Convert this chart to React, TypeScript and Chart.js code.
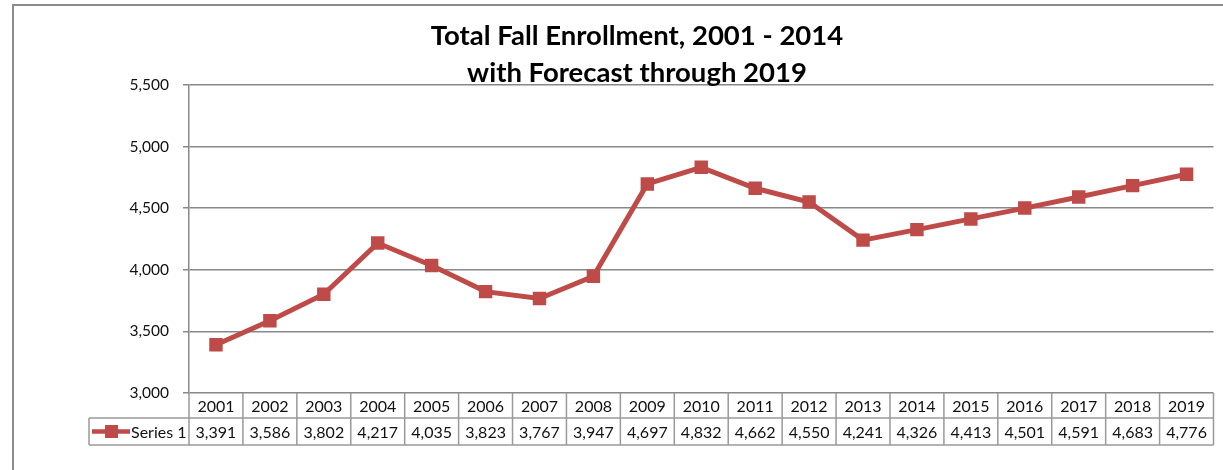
import React, { useEffect, useRef } from "react";
import { Chart, registerables } from "chart.js";

Chart.register(...registerables);

const years = ["2001", "2002", "2003", "2004", "2005", "2006", "2007", "2008", "2009", "2010", "2011", "2012", "2013", "2014", "2015", "2016", "2017", "2018", "2019"];
const enrollment = [3391, 3586, 3802, 4217, 4035, 3823, 3767, 3947, 4697, 4832, 4662, 4550, 4241, 4326, 4413, 4501, 4591, 4683, 4776];
const titleLines = ["Total Fall Enrollment, 2001 - 2014", "with Forecast through 2019"];
const seriesName = "Series 1";
const yMin = 3000;
const yMax = 5500;
const yStep = 500;

const RED = "#BE4B48";
const GRID = "#888888";
const FONT = "Lato, 'DejaVu Sans', sans-serif";

const fmt = (v: number) => v.toLocaleString("en-US");

const frameAndTitle = {
  id: "frameAndTitle",
  beforeDraw(chart: any) {
    const ctx = chart.ctx;
    ctx.save();
    ctx.fillStyle = "#fff";
    ctx.fillRect(0, 0, chart.width, chart.height);
    ctx.strokeStyle = "#8c8c8c";
    ctx.lineWidth = 2;
    ctx.strokeRect(13, 5, chart.width + 20, chart.height + 20);
    ctx.restore();
  },
  afterDraw(chart: any) {
    const ctx = chart.ctx;
    ctx.save();
    ctx.fillStyle = "#000";
    ctx.font = "bold 27.5px " + FONT;
    ctx.textAlign = "center";
    ctx.textBaseline = "alphabetic";
    ctx.fillText(titleLines[0], 637, 45);
    ctx.fillText(titleLines[1], 637, 82);
    ctx.restore();
  },
};

const dataTable = {
  id: "dataTable",
  afterDraw(chart: any) {
    const ctx = chart.ctx;
    const area = chart.chartArea;
    const xs = chart.scales.x;
    const n = years.length;
    const colW = (area.right - area.left) / n;
    const top = area.bottom;
    const mid = top + 25;
    const bot = top + 52;
    const legLeft = 89;
    ctx.save();
    ctx.strokeStyle = "#9a9a9a";
    ctx.lineWidth = 1.5;
    ctx.beginPath();
    ctx.moveTo(legLeft, mid);
    ctx.lineTo(area.right, mid);
    ctx.moveTo(legLeft, bot);
    ctx.lineTo(area.right, bot);
    ctx.moveTo(legLeft, mid);
    ctx.lineTo(legLeft, bot);
    for (let i = 0; i <= n; i++) {
      const x = area.left + i * colW;
      ctx.moveTo(x, top);
      ctx.lineTo(x, bot);
    }
    ctx.stroke();

    ctx.fillStyle = "#111";
    ctx.font = "16px " + FONT;
    ctx.textAlign = "center";
    ctx.textBaseline = "middle";
    for (let i = 0; i < n; i++) {
      const cx = xs.getPixelForValue(i);
      ctx.fillText(years[i], cx, (top + mid) / 2 + 1);
      ctx.fillText(fmt(enrollment[i]), cx, (mid + bot) / 2 + 1);
    }

    // legend key
    const ly = (mid + bot) / 2;
    ctx.strokeStyle = RED;
    ctx.lineWidth = 4.5;
    ctx.beginPath();
    ctx.moveTo(92, ly);
    ctx.lineTo(130, ly);
    ctx.stroke();
    ctx.fillStyle = RED;
    ctx.fillRect(105, ly - 6.5, 13, 13);
    ctx.fillStyle = "#111";
    ctx.textAlign = "left";
    ctx.fillText(seriesName, 131, ly + 1);
    ctx.restore();
  },
};

export default function App() {
  const ref = useRef<HTMLCanvasElement | null>(null);
  useEffect(() => {
    if (!ref.current) return;
    const chart = new Chart(ref.current, {
      type: "line",
      data: {
        labels: years,
        datasets: [
          {
            label: seriesName,
            data: enrollment,
            borderColor: RED,
            backgroundColor: RED,
            borderWidth: 5,
            tension: 0,
            pointStyle: "rect",
            pointRadius: 9.5,
            pointHoverRadius: 9.5,
            pointBackgroundColor: RED,
            pointBorderColor: RED,
            pointBorderWidth: 0,
          },
        ],
      },
      options: {
        animation: false,
        responsive: false,
        devicePixelRatio: 1,
        layout: { padding: { left: 0, top: 85, right: 7, bottom: 77 } },
        plugins: {
          legend: { display: false },
          title: { display: false },
          tooltip: { enabled: false },
        },
        scales: {
          x: {
            type: "category",
            display: false,
            offset: true,
          },
          y: {
            min: yMin,
            max: yMax,
            afterFit: (scale: any) => {
              scale.width = 189;
            },
            ticks: {
              stepSize: yStep,
              padding: 14,
              color: "#111",
              font: { family: FONT, size: 15.5 },
              callback: (v: any) => fmt(Number(v)),
            },
            grid: {
              color: GRID,
              lineWidth: 1.5,
              tickLength: 6,
              drawTicks: true,
            },
            border: { display: true, color: GRID, width: 1.5 },
          },
        },
      },
      plugins: [frameAndTitle, dataTable],
    });
    return () => chart.destroy();
  }, []);
  return (
    <div style={{ position: "fixed", left: 0, top: 0, width: 1223, height: 470, background: "#fff" }}>
      <canvas ref={ref} width={1223} height={470} style={{ display: "block" }} />
    </div>
  );
}
